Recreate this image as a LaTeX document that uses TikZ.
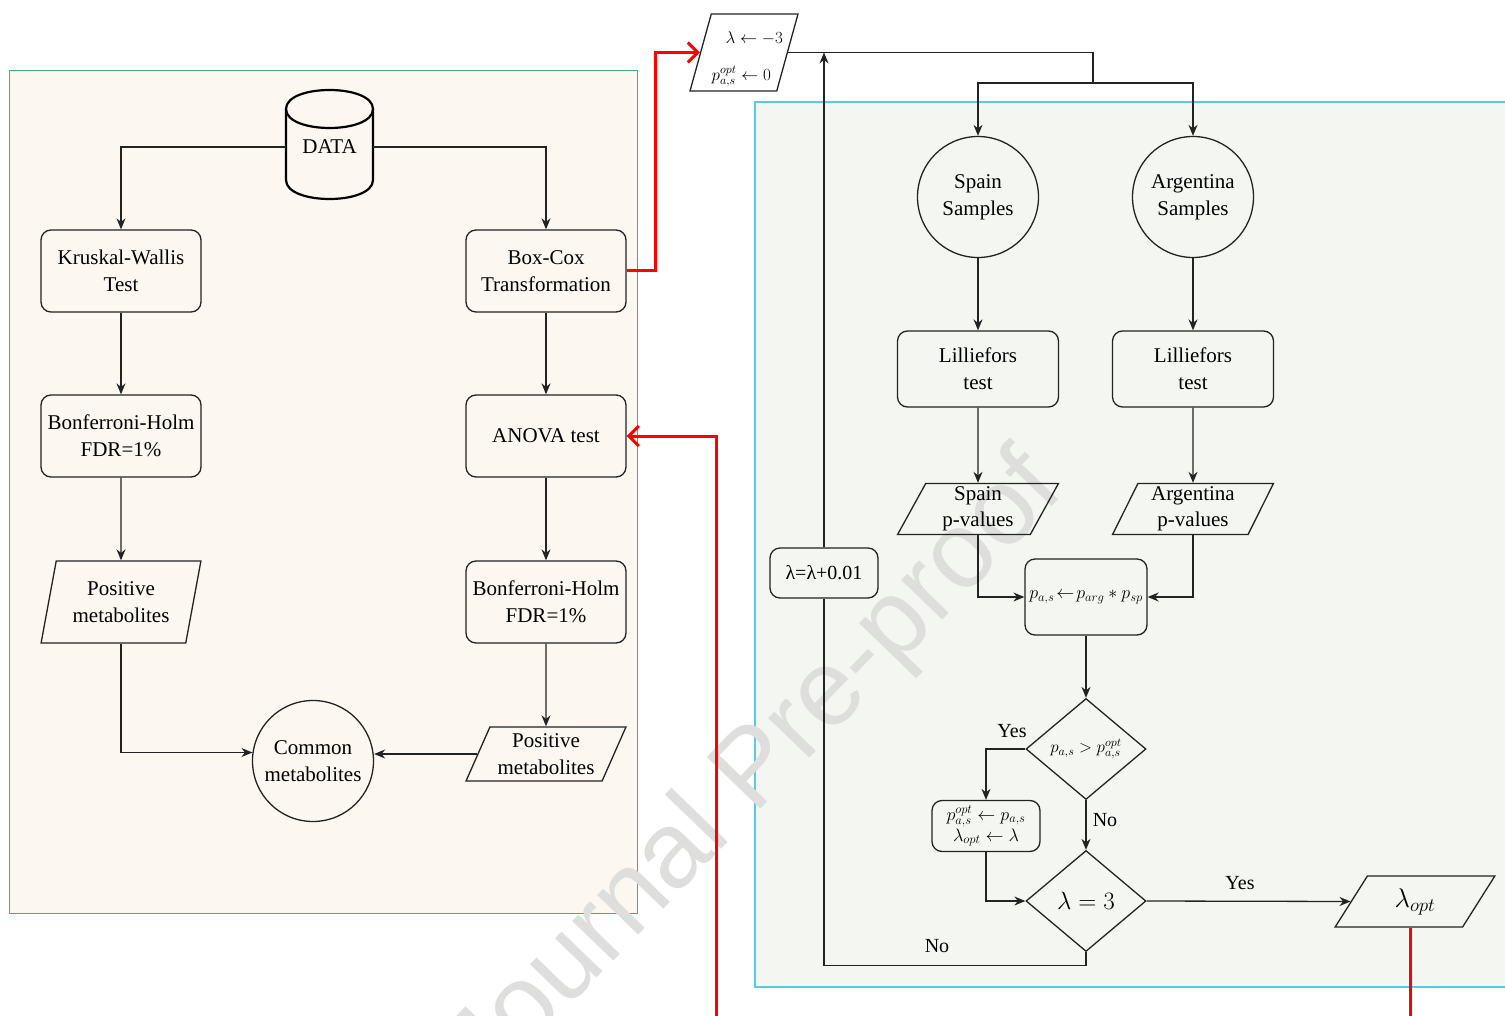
\RequirePackage{fix-cm}
\documentclass[tikz,border=0pt]{standalone}
\usepackage{fontspec}
\setmainfont{Liberation Serif}
\newfontfamily\wmfont{Liberation Sans}
\usetikzlibrary{shapes.geometric, arrows.meta}
\definecolor{leftbg}{RGB}{252,247,241}
\definecolor{rightbg}{RGB}{244,247,241}
\definecolor{leftbd}{RGB}{60,179,113}
\definecolor{rightbd}{RGB}{91,200,232}
\definecolor{wm}{RGB}{222,222,220}
\definecolor{ln}{RGB}{35,35,35}
\begin{document}
\begin{tikzpicture}[x=1pt,y=-1pt,
  every node/.style={font=\fontsize{21}{27}\selectfont, text=black},
  proc/.style={draw=ln, line width=1.3pt, rounded corners=10pt, align=center, inner sep=2pt},
  io/.style={draw=ln, line width=1.3pt, trapezium, trapezium stretches=true, align=center, inner sep=1pt},
  circ/.style={draw=ln, line width=1.3pt, circle, minimum size=121pt, align=center, inner sep=0pt},
  dec/.style={draw=ln, line width=1.3pt, diamond, minimum width=120pt, minimum height=101pt, inner sep=0pt},
  conn/.style={draw=ln, line width=1.3pt},
  arr/.style={conn, -{Stealth[length=11pt,width=9pt]}},
  redarr/.style={draw=red, line width=3pt, -{Straight Barb[length=10pt,width=20pt]}},
  redln/.style={draw=red, line width=3pt},
  lbl/.style={font=\fontsize{20}{24}\selectfont}
]
\useasboundingbox (0,0) rectangle (1505,1016);
% panels
\path[fill=leftbg, draw=leftbd, line width=1pt] (9,71) rectangle (637,913);
\path[fill=rightbg, draw=rightbd, line width=1.2pt] (755,102) rectangle (1512,987);
% watermark
\node[font=\wmfont\fontsize{108}{112}\selectfont, text=wm, rotate=46] (wmk) at (757,772) {Journal Pre-proof};

% ---------- left panel ----------
\node[minimum width=87pt, minimum height=20pt, inner sep=0pt] (data) at (329.5,147) {DATA};
\draw[black, line width=2.2pt] (286,109) .. controls (286,83.67) and (373,83.67) .. (373,109)
      .. controls (373,134.33) and (286,134.33) .. (286,109);
\draw[black, line width=2.2pt] (286,109) -- (286,180) .. controls (286,205.33) and (373,205.33) .. (373,180) -- (373,109);

\node[proc, minimum width=160pt, minimum height=82pt] (kw) at (121,271) {Kruskal-Wallis\\Test};
\node[proc, minimum width=160pt, minimum height=82pt] (bc) at (546,271) {Box-Cox\\Transformation};
\node[proc, minimum width=160pt, minimum height=82pt] (bh1) at (121,436) {Bonferroni-Holm\\FDR=1\%};
\node[proc, minimum width=160pt, minimum height=82pt] (anova) at (546,436) {ANOVA test};
\node[io, trapezium left angle=75, trapezium right angle=105, minimum width=160pt, minimum height=82pt] (pos1) at (121,602) {Positive\\metabolites};
\node[proc, minimum width=160pt, minimum height=82pt] (bh2) at (546,602) {Bonferroni-Holm\\FDR=1\%};
\node[io, trapezium left angle=64, trapezium right angle=116, minimum width=160pt, minimum height=54pt] (pos2) at (546,754) {Positive\\metabolites};
\node[circ] (common) at (313,761) {Common\\metabolites};

\draw[arr] (data.west) -| (kw.north);
\draw[arr] (data.east) -| (bc.north);
\draw[arr] (kw.south) -- (bh1.north);
\draw[arr] (bh1.south) -- (pos1.north);
\draw[arr] (bc.south) -- (anova.north);
\draw[arr] (anova.south) -- (bh2.north);
\draw[arr] (bh2.south) -- (pos2.north);
\draw[arr] (pos1.south) |- (common.172);
\draw[arr] (pos2.west) -- (pos2.west -| common.east);

% ---------- right panel ----------
\node[io, trapezium left angle=72, trapezium right angle=108, minimum width=108pt, minimum height=77pt] (tp) at (744,52.5) {};
\node[font=\fontsize{17}{37}\selectfont, align=right, anchor=east, inner sep=0pt] (tptext) at (783,59)
      {$\lambda\leftarrow-3$\\$p^{opt}_{a,s}\leftarrow 0$\rule{12pt}{0pt}};

\node[circ] (spain) at (978,197) {Spain\\Samples};
\node[circ] (arg) at (1193,197) {Argentina\\Samples};
\node[proc, minimum width=161pt, minimum height=76pt] (lil1) at (978,369) {Lilliefors\\test};
\node[proc, minimum width=161pt, minimum height=76pt] (lil2) at (1193,369) {Lilliefors\\test};
\node[io, trapezium left angle=67, trapezium right angle=113, minimum width=161pt, minimum height=51pt,
      font=\fontsize{21}{26}\selectfont] (spv) at (978,509) {Spain\\p-values};
\node[io, trapezium left angle=67, trapezium right angle=113, minimum width=161pt, minimum height=51pt,
      font=\fontsize{21}{26}\selectfont] (apv) at (1193,509) {Argentina\\p-values};
\node[proc, minimum width=122pt, minimum height=76pt, inner sep=1pt, font=\fontsize{18}{20}\selectfont] (pas) at (1086,597)
      {$p_{a,s}\!\leftarrow\! p_{arg} * p_{sp}$};
\node[dec, font=\fontsize{17}{20}\selectfont] (d1) at (1086,749) {$p_{a,s} > p^{opt}_{a,s}$};
\node[proc, minimum width=108pt, minimum height=51pt, inner sep=0pt, font=\fontsize{18}{21}\selectfont] (popt) at (986,826)
      {$p^{opt}_{a,s}\leftarrow p_{a,s}$\\$\lambda_{opt}\leftarrow\lambda$};
\node[dec, font=\fontsize{25}{28}\selectfont] (d2) at (1086,901) {$\lambda = 3$};
\node[io, trapezium left angle=63, trapezium right angle=117, minimum width=160pt, minimum height=51pt,
      font=\fontsize{27}{30}\selectfont] (lopt) at (1415,901.5) {$\lambda_{opt}$};
\node[proc, minimum width=108pt, minimum height=50pt, font=\fontsize{20}{24}\selectfont] (lam) at (824,573) {λ=λ+0.01};

\coordinate (split) at (1093,83);
\draw[conn] (tp.east) -| (split);
\draw[arr] (split) -| (spain.north);
\draw[arr] (split) -| (arg.north);
\draw[arr] (lam.north) -- (lam.north |- tp.east);
\draw[arr] (spain.south) -- (lil1.north);
\draw[arr] (arg.south) -- (lil2.north);
\draw[arr] (lil1.south) -- (spv.north);
\draw[arr] (lil2.south) -- (apv.north);
\draw[arr] (spv.south) |- (pas.west);
\draw[arr] (apv.south) |- (pas.east);
\draw[arr] (pas.south) -- (d1.north);
\draw[arr] (d1.west) -| (popt.north);
\draw[arr] (d1.south) -- (d2.north);
\draw[arr] (popt.south) |- (d2.west);
\draw[arr] (d2.east) -- (lopt.west);
\draw[conn] (d2.south) -- ++(0,13) -| (lam.south);

\node[lbl] (yes1) at (1012,731) {Yes};
\node[lbl] (no1) at (1105,820) {No};
\node[lbl] (yes2) at (1240,883) {Yes};
\node[lbl] (no2) at (937,946) {No};

% ---------- red connectors ----------
\coordinate (rb1) at (716,1022);
\coordinate (rb2) at (1410,1022);
\draw[redarr] (bc.east) -- ++(29,0) |- (tp.west);
\draw[redarr] (rb1) |- (anova.east);
\draw[redln] (lopt.south -| rb2) -- (rb2);
\end{tikzpicture}
\end{document}
